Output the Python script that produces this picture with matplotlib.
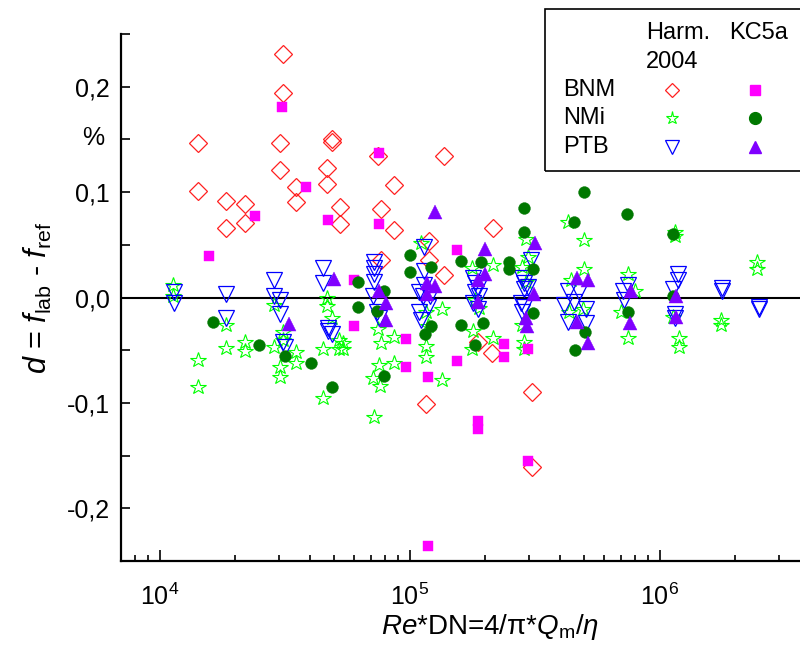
#!/usr/bin/env python3
import matplotlib
matplotlib.use("Agg")
import matplotlib.pyplot as plt
from matplotlib.patches import Rectangle
from matplotlib.ticker import FixedLocator, LogLocator, NullFormatter

plt.rcParams['font.family'] = ['Liberation Sans', 'DejaVu Sans']
plt.rcParams['mathtext.fontset'] = 'custom'
plt.rcParams['mathtext.rm'] = 'Liberation Sans'
plt.rcParams['mathtext.it'] = 'Liberation Sans:italic'

# BNM, Harm. 2004 (open diamonds)
bnm_harm_re = [3.13e4, 3.13e4, 1.42e4, 3.02e4, 4.88e4, 4.88e4, 1.42e4, 3.02e4, 4.66e4, 4.66e4,
               3.5e4, 3.5e4, 1.84e4, 1.84e4, 2.19e4, 2.19e4, 5.25e4, 5.25e4, 7.45e4, 1.37e5,
               8.63e4, 7.66e4, 8.63e4, 1.2e5, 2.15e5, 1.2e5, 1.37e5, 1.87e5, 2.13e5, 3.08e5,
               1.16e5, 3.08e5, 7.66e4]
bnm_harm_d = [0.231, 0.194, 0.147, 0.147, 0.150, 0.148, 0.101, 0.121, 0.123, 0.108,
              0.105, 0.091, 0.092, 0.066, 0.089, 0.071, 0.086, 0.070, 0.134, 0.134,
              0.107, 0.084, 0.064, 0.054, 0.066, 0.036, 0.021, -0.042, -0.053, -0.090,
              -0.101, -0.161, 0.036]

# BNM, KC5a (filled squares)
bnm_kc_re = [3.08e4, 3.87e4, 2.42e4, 4.7e4, 1.57e4, 7.52e4, 7.52e4, 5.97e4, 5.97e4, 1.55e5,
             9.65e4, 9.65e4, 1.18e5, 1.55e5, 2.38e5, 2.38e5, 2.99e5, 1.87e5, 1.87e5, 2.99e5,
             1.18e5]
bnm_kc_d = [0.181, 0.105, 0.077, 0.074, 0.039, 0.137, 0.070, 0.017, -0.027, 0.045,
            -0.039, -0.066, -0.075, -0.060, -0.044, -0.056, -0.049, -0.117, -0.125, -0.155,
            -0.236]

# NMi, Harm. 2004 (open stars)
nmi_harm_re = [1.13e4, 1.13e4, 1.85e4, 1.42e4, 1.42e4, 1.85e4, 2.19e4, 2.19e4, 2.86e4, 3.13e4,
               3.13e4, 2.86e4, 3.5e4, 3.5e4, 3.02e4, 3.02e4, 4.66e4, 4.66e4, 4.88e4, 5.2e4,
               4.49e4, 5.2e4, 4.49e4,
               1.11e5, 2.15e5, 1.78e5, 2.83e5, 2.97e5, 2.91e5, 1.35e5, 7.45e4, 7.66e4, 8.63e4,
               1.16e5, 1.18e5, 1.16e5, 1.16e5, 7.52e4, 7.12e4, 7.59e4, 8.63e4, 1.35e5, 1.8e5,
               1.78e5, 2.15e5, 2.86e5, 2.86e5, 2.83e5, 5.4e4, 5.4e4, 1.9e5, 1.83e5, 2.91e5,
               7.18e4,
               4.29e5, 5.0e5, 1.15e6, 1.15e6, 2.46e6, 2.46e6, 1.76e6, 1.76e6, 1.13e6, 1.2e6,
               1.2e6, 7.5e5, 7.5e5, 7.03e5, 8.0e5, 4.42e5, 5.0e5, 4.33e5, 4.95e5]
nmi_harm_d = [0.012, 0.001, -0.026, -0.059, -0.085, -0.048, -0.042, -0.051, -0.007, -0.033,
              -0.040, -0.047, -0.052, -0.062, -0.066, -0.075, 0.000, -0.008, -0.019, -0.040,
              -0.049, -0.049, -0.095,
              0.052, 0.031, 0.028, 0.029, 0.038, 0.056, -0.011, -0.030, -0.043, -0.037,
              -0.014, -0.027, -0.046, -0.056, -0.064, -0.076, -0.084, -0.062, -0.078, -0.032,
              -0.049, -0.038, -0.042, -0.049, -0.026, -0.043, -0.049, -0.010, -0.002, 0.015,
              -0.113,
              0.072, 0.055, 0.062, 0.058, 0.034, 0.027, -0.021, -0.026, -0.018, -0.038,
              -0.047, 0.022, -0.038, -0.014, 0.006, 0.017, 0.027, -0.014, -0.011]

# NMi, KC5a (filled circles)
nmi_kc_re = [1.63e4, 2.51e4, 3.19e4, 4.02e4, 4.88e4, 6.2e4, 6.2e4, 7.87e4, 7.38e4, 7.87e4,
             1.0e5, 1.0e5, 1.22e5, 1.61e5, 1.94e5, 2.49e5, 2.49e5, 3.13e5, 2.86e5, 2.86e5,
             1.83e5, 1.61e5, 1.96e5, 1.22e5, 1.15e5, 3.13e5, 5.0e5, 4.55e5, 7.43e5, 1.13e6,
             1.13e6, 7.5e5, 5.04e5, 4.59e5]
nmi_kc_d = [-0.023, -0.045, -0.055, -0.062, -0.085, 0.015, -0.009, 0.006, -0.013, -0.074,
            0.040, 0.024, 0.029, 0.035, 0.034, 0.034, 0.027, 0.027, 0.085, 0.062,
            -0.045, -0.026, -0.024, -0.027, -0.035, -0.015, 0.100, 0.072, 0.079, 0.060,
            0.001, -0.014, -0.033, -0.050]

# PTB, Harm. 2004 (open down triangles)
ptb_harm_re = [1.14e4, 1.14e4, 1.85e4, 1.85e4, 2.86e4, 2.86e4, 3.02e4, 3.02e4, 3.13e4, 3.19e4,
               4.49e4, 4.49e4, 4.7e4, 4.74e4, 4.88e4,
               7.18e4, 7.18e4, 7.18e4, 7.18e4, 7.12e4, 7.38e4, 7.52e4,
               1.14e5, 1.14e5, 1.14e5, 1.09e5, 1.13e5, 1.09e5, 1.11e5, 1.21e5, 1.19e5,
               1.8e5, 1.83e5, 1.87e5, 1.83e5, 1.89e5, 1.8e5, 1.87e5,
               3.05e5, 2.83e5, 2.86e5, 2.97e5, 2.86e5, 2.78e5, 2.86e5, 2.83e5,
               4.29e5, 4.77e5, 4.55e5, 4.13e5, 5.08e5, 4.29e5, 5.08e5,
               7.5e5, 7.17e5, 7.23e5,
               1.19e6, 1.19e6, 1.13e6, 1.15e6, 1.15e6,
               1.77e6, 1.77e6, 2.49e6, 2.49e6]
ptb_harm_d = [0.005, -0.005, 0.003, -0.019, 0.017, 0.001, -0.002, -0.016, -0.042, -0.047,
              0.028, 0.014, -0.029, -0.032, -0.035,
              0.034, 0.028, 0.022, 0.015, 0.001, -0.014, -0.019,
              0.048, 0.025, 0.012, 0.005, 0.001, -0.014, -0.021, 0.001, -0.009,
              0.019, 0.014, 0.009, 0.005, 0.001, -0.005, -0.011,
              0.036, 0.019, 0.014, 0.010, 0.008, -0.005, -0.009, -0.014,
              0.006, 0.005, -0.004, -0.007, -0.011, -0.023, -0.024,
              0.012, 0.006, -0.002,
              0.022, 0.017, 0.008, -0.016, -0.019,
              0.009, 0.006, -0.009, -0.011]

# PTB, KC5a (filled up triangles)
ptb_kc_re = [3.28e4, 5.01e4, 7.52e4, 8.02e4, 8.02e4, 1.26e5, 2.0e5, 3.19e5, 1.17e5, 1.26e5,
             1.17e5, 1.87e5, 2.0e5, 1.87e5, 3.16e5, 2.91e5, 2.94e5, 4.68e5, 5.18e5, 4.68e5,
             5.18e5, 7.71e5, 7.64e5, 1.16e6, 1.16e6]
ptb_kc_d = [-0.025, 0.018, 0.006, -0.005, -0.021, 0.081, 0.046, 0.052, 0.014, 0.011,
            0.003, 0.017, 0.022, -0.004, 0.003, -0.019, -0.027, 0.019, 0.017, -0.023,
            -0.043, 0.006, -0.024, 0.001, -0.018]

RED = '#ff2020'
MAGENTA = '#ff00ff'
LIME = '#00ff00'
DKGREEN = '#007800'
BLUE = '#0000ff'
VIOLET = '#8000ff'

fig = plt.figure(figsize=(8.0, 6.45), dpi=100)
ax = fig.add_axes([0.151, 0.1302, 0.8616, 0.817])

ax.axhline(0, color='k', lw=1.5, zorder=1)

ax.plot(bnm_harm_re, bnm_harm_d, 'D', ms=9, mfc='none', mec=RED, mew=0.9, ls='none')
ax.plot(nmi_harm_re, nmi_harm_d, '*', ms=11.5, mfc='none', mec=LIME, mew=0.8, ls='none')
ax.plot(ptb_harm_re, ptb_harm_d, 'v', ms=12, mfc='none', mec=BLUE, mew=0.9, ls='none')
ax.plot(bnm_kc_re, bnm_kc_d, 's', ms=7.5, mfc=MAGENTA, mec=MAGENTA, mew=0.3, ls='none')
ax.plot(nmi_kc_re, nmi_kc_d, 'o', ms=8.5, mfc=DKGREEN, mec=DKGREEN, mew=0.3, ls='none')
ax.plot(ptb_kc_re, ptb_kc_d, '^', ms=9.5, mfc=VIOLET, mec=VIOLET, mew=0.3, ls='none')

ax.set_xscale('log')
ax.set_xlim(7000, 4e6)
ax.set_ylim(-0.25, 0.25)

for s in ['top', 'right']:
    ax.spines[s].set_visible(False)
for s in ['left', 'bottom']:
    ax.spines[s].set_linewidth(1.6)

ax.xaxis.set_major_locator(FixedLocator([1e4, 1e5, 1e6]))
ax.xaxis.set_minor_locator(LogLocator(base=10, subs=range(2, 10)))
ax.xaxis.set_minor_formatter(NullFormatter())
ax.set_xticklabels([r'$10^{4}$', r'$10^{5}$', r'$10^{6}$'])

yticks = [-0.25, -0.2, -0.15, -0.1, -0.05, 0.0, 0.05, 0.1, 0.15, 0.2, 0.25]
ylabels = ['', '-0,2', '', '-0,1', '', '0,0', '', '0,1', '', '0,2', '']
ax.set_yticks(yticks)
ax.set_yticklabels(ylabels)

ax.tick_params(axis='x', which='major', direction='in', length=8, width=1.2, labelsize=18, pad=16)
ax.tick_params(axis='x', which='minor', direction='in', length=4.5, width=1.2)
ax.tick_params(axis='y', which='major', direction='in', length=6.5, width=1.2, labelsize=18, pad=8)

fig.text(93 / 800, (645 - 138) / 645, '%', ha='center', va='center', fontsize=18)
fig.text(38 / 800, (645 - 298) / 645, r'$d$ = $f_{\rm lab}$ - $f_{\rm ref}$',
         rotation=90, ha='center', va='center', fontsize=22)
fig.text(490 / 800, 3 / 645, r'$Re$*DN=4/π*$Q_{\rm m}$/$\eta$',
         ha='center', va='bottom', fontsize=20)

# legend box drawn by hand, two marker columns
fig.patches.append(Rectangle((545 / 800, (645 - 171) / 645), 0.4, (171 - 9) / 645,
                             transform=fig.transFigure, fill=False, ec='k', lw=1.2))
fs = 17
fig.text(646 / 800, (645 - 33) / 645, 'Harm.', ha='left', va='center', fontsize=fs)
fig.text(646 / 800, (645 - 62) / 645, '2004', ha='left', va='center', fontsize=fs)
fig.text(729 / 800, (645 - 33) / 645, 'KC5a', ha='left', va='center', fontsize=fs)
rows = [('BNM', 90), ('NMi', 118), ('PTB', 147)]
for name, py in rows:
    fig.text(563 / 800, (645 - py) / 645, name, ha='left', va='center', fontsize=fs)

c1 = 672 / 800
c2 = 755 / 800
ry = [(645 - py) / 645 for _, py in rows]
kw = dict(transform=fig.transFigure, clip_on=False, ls='none')
ax.plot([c1], [ry[0]], 'D', ms=7, mfc='none', mec=RED, mew=0.9, **kw)
ax.plot([c1], [ry[1]], '*', ms=9.5, mfc='none', mec=LIME, mew=0.8, **kw)
ax.plot([c1], [ry[2]], 'v', ms=9.5, mfc='none', mec=BLUE, mew=0.9, **kw)
ax.plot([c2], [ry[0]], 's', ms=7, mfc=MAGENTA, mec=MAGENTA, **kw)
ax.plot([c2], [ry[1]], 'o', ms=8.5, mfc=DKGREEN, mec=DKGREEN, **kw)
ax.plot([c2], [ry[2]], '^', ms=9, mfc=VIOLET, mec=VIOLET, **kw)

fig.savefig('out.png', dpi=100)
